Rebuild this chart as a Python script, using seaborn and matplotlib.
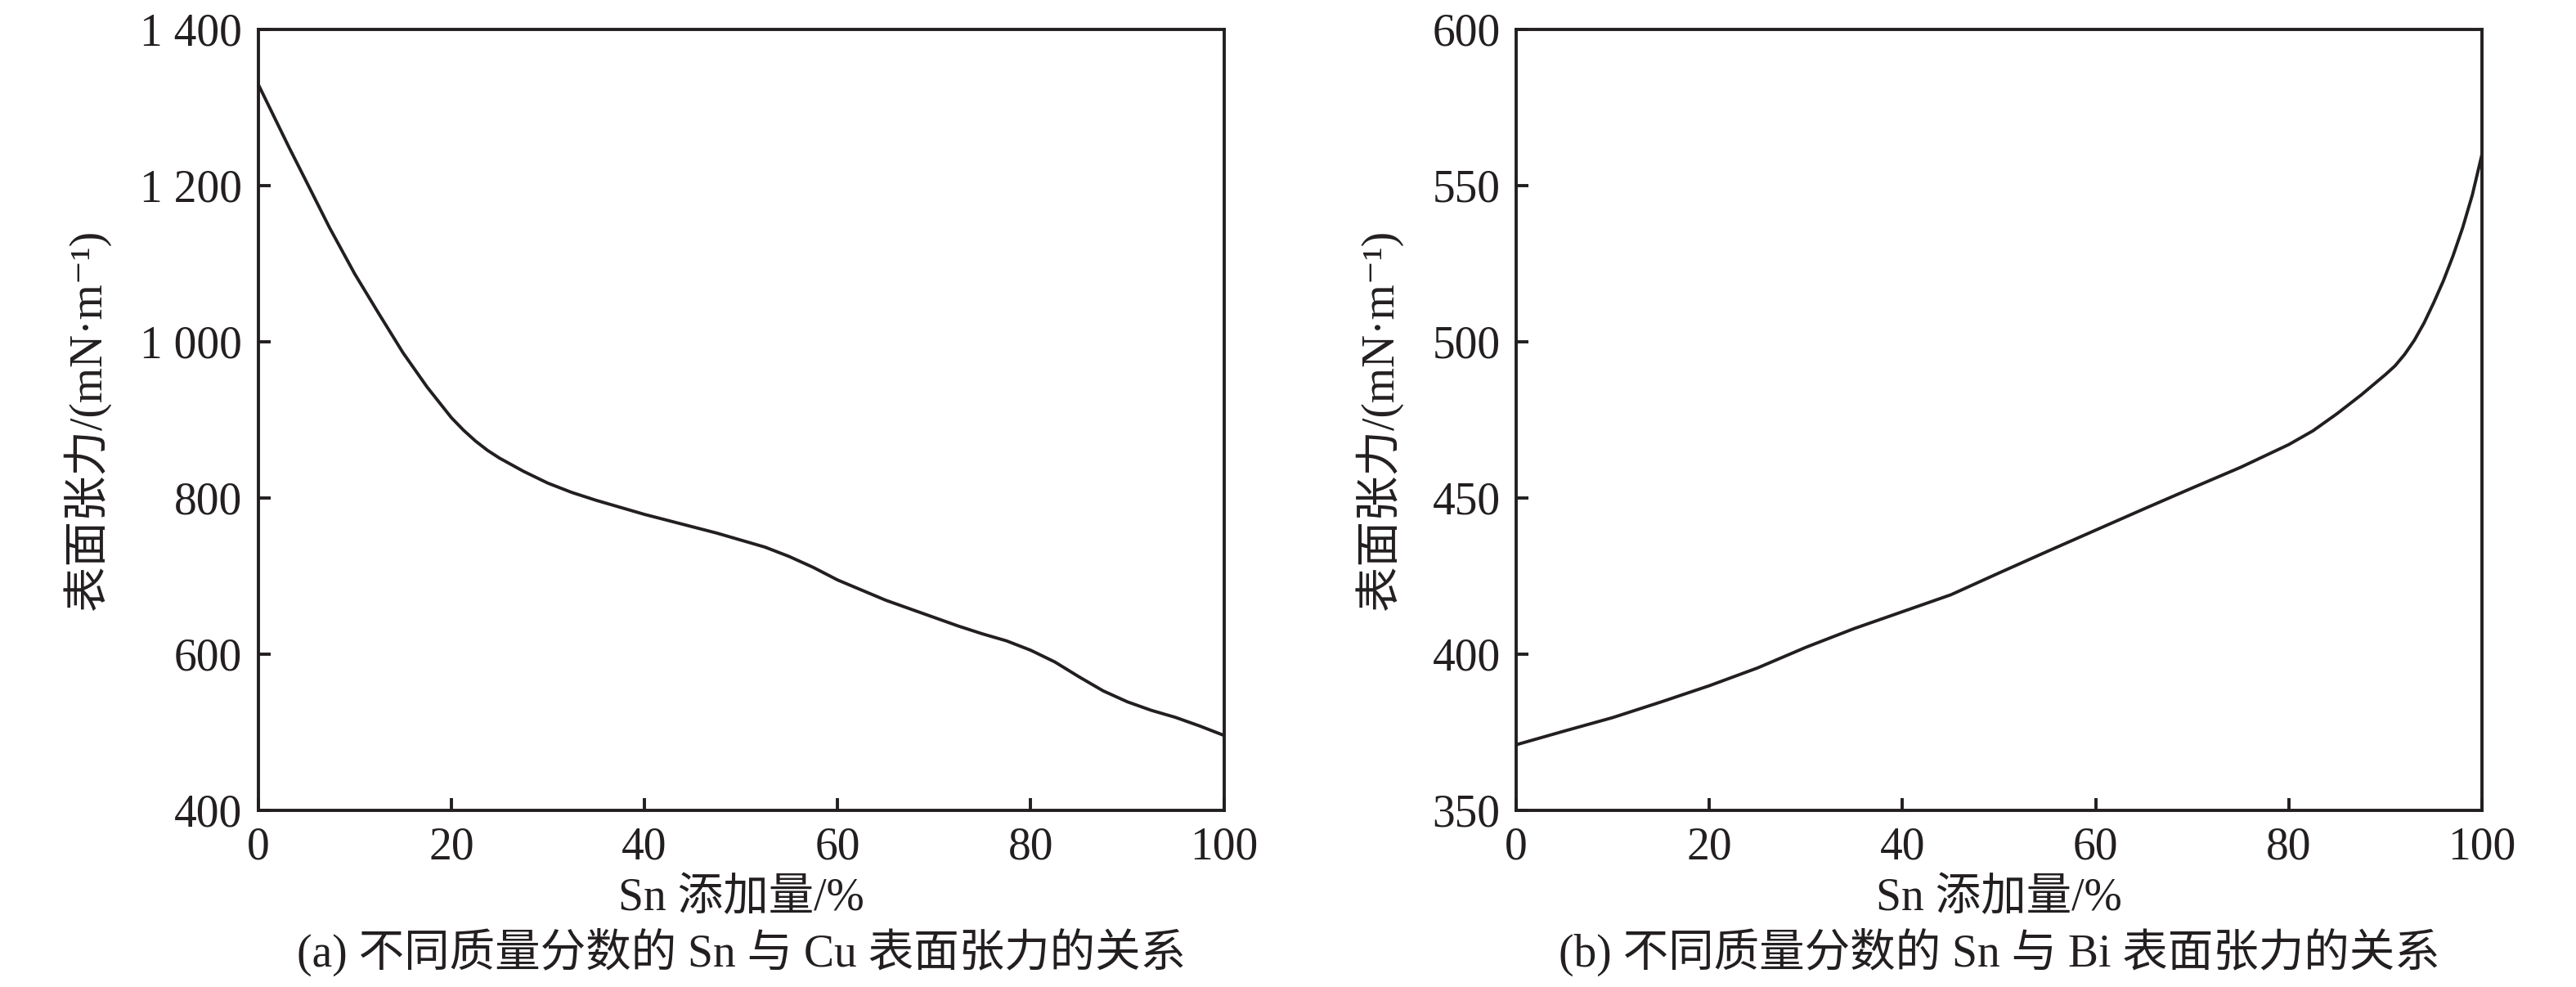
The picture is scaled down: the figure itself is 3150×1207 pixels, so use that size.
import matplotlib
matplotlib.use("Agg")
import matplotlib.pyplot as plt
import numpy as np
import pandas as pd
import seaborn as sns

# ---- data ----
cu_x = [0, 3.2, 5, 7.4, 10, 12.5, 15, 17.5, 20, 21.25, 22.5, 23.75, 25, 27.5, 30, 32.5, 35,
        37.5, 40, 42.5, 45, 47.5, 50, 52.5, 55, 57.5, 60, 62.5, 65, 67.5, 70, 72.5, 75,
        77.5, 80, 82.5, 85, 87.5, 90, 92.5, 95, 97.5, 100]
cu_y = [1330, 1249, 1205, 1146, 1087, 1036, 986, 942, 903, 887, 873, 861, 851, 834, 819,
        807, 797, 788, 779, 771, 763, 755, 746, 737, 725, 711, 695, 682, 669, 658, 647,
        636, 626, 617, 605, 590, 571, 553, 539, 528, 519, 508, 496]

bi_x = [0, 5, 10, 15, 20, 25, 30, 35, 40, 45, 50, 55, 60, 65, 70, 75, 80, 82.5, 85, 87.5,
        90, 91, 92, 93, 94, 95, 96, 97, 98, 99, 100]
bi_y = [371, 375.4, 379.7, 384.7, 389.9, 395.6, 402.2, 408.2, 413.6, 419, 426, 432.9,
        439.7, 446.5, 453.2, 459.8, 467.1, 471.5, 477, 483, 489.5, 492.3, 496, 500.5, 506,
        512.5, 519.5, 527.5, 536.5, 547, 560]

x_ticks = [0, 20, 40, 60, 80, 100]
cu_y_ticks = [400, 600, 800, 1000, 1200, 1400]
cu_y_ticklabels = ["400", "600", "800", "1 000", "1 200", "1 400"]
bi_y_ticks = [350, 400, 450, 500, 550, 600]
bi_y_ticklabels = ["350", "400", "450", "500", "550", "600"]

x_label = "Sn 添加量/%"
y_label = "表面张力/(mN·m⁻¹)"
captions = ["(a) 不同质量分数的 Sn 与 Cu 表面张力的关系",
            "(b) 不同质量分数的 Sn 与 Bi 表面张力的关系"]

# ---- style ----
sns.set_style("white")
plt.rcParams["font.family"] = ["Liberation Serif", "Noto Sans CJK SC", "DejaVu Sans"]
plt.rcParams["font.size"] = 20
ink = "#231f20"

fig = plt.figure(figsize=(15.75, 6.035), dpi=200)
ax_a = fig.add_axes([0.1002, 0.1790, 0.3749, 0.7912])
ax_b = fig.add_axes([0.5886, 0.1790, 0.3749, 0.7912])

df_a = pd.DataFrame({"x": cu_x, "y": cu_y})
df_b = pd.DataFrame({"x": bi_x, "y": bi_y})

sns.lineplot(data=df_a, x="x", y="y", ax=ax_a, color=ink, linewidth=1.4)
sns.lineplot(data=df_b, x="x", y="y", ax=ax_b, color=ink, linewidth=1.4)

for ax, yt, ytl, ylim, cap in [
    (ax_a, cu_y_ticks, cu_y_ticklabels, (400, 1400), captions[0]),
    (ax_b, bi_y_ticks, bi_y_ticklabels, (350, 600), captions[1]),
]:
    ax.set_xlim(0, 100)
    ax.set_ylim(*ylim)
    ax.set_xticks(x_ticks)
    ax.set_xticklabels([str(t) for t in x_ticks])
    ax.set_yticks(yt)
    ax.set_yticklabels(ytl)
    ax.tick_params(axis="both", direction="in", length=5.5, width=1.4,
                   colors=ink, labelsize=20, pad=7,
                   top=False, right=False, bottom=True, left=True)
    for s in ax.spines.values():
        s.set_visible(True)
        s.set_color(ink)
        s.set_linewidth(1.4)
    ax.set_xlabel(x_label, fontsize=20, color=ink, labelpad=4)
    ax.set_ylabel(y_label, fontsize=20, color=ink, labelpad=13)
    ax.grid(False)
    bb = ax.get_position()
    fig.text((bb.x0 + bb.x1) / 2, 0.035, cap, ha="center", va="center",
             fontsize=20, color=ink)

fig.savefig("out.png", dpi=200, facecolor="white")
